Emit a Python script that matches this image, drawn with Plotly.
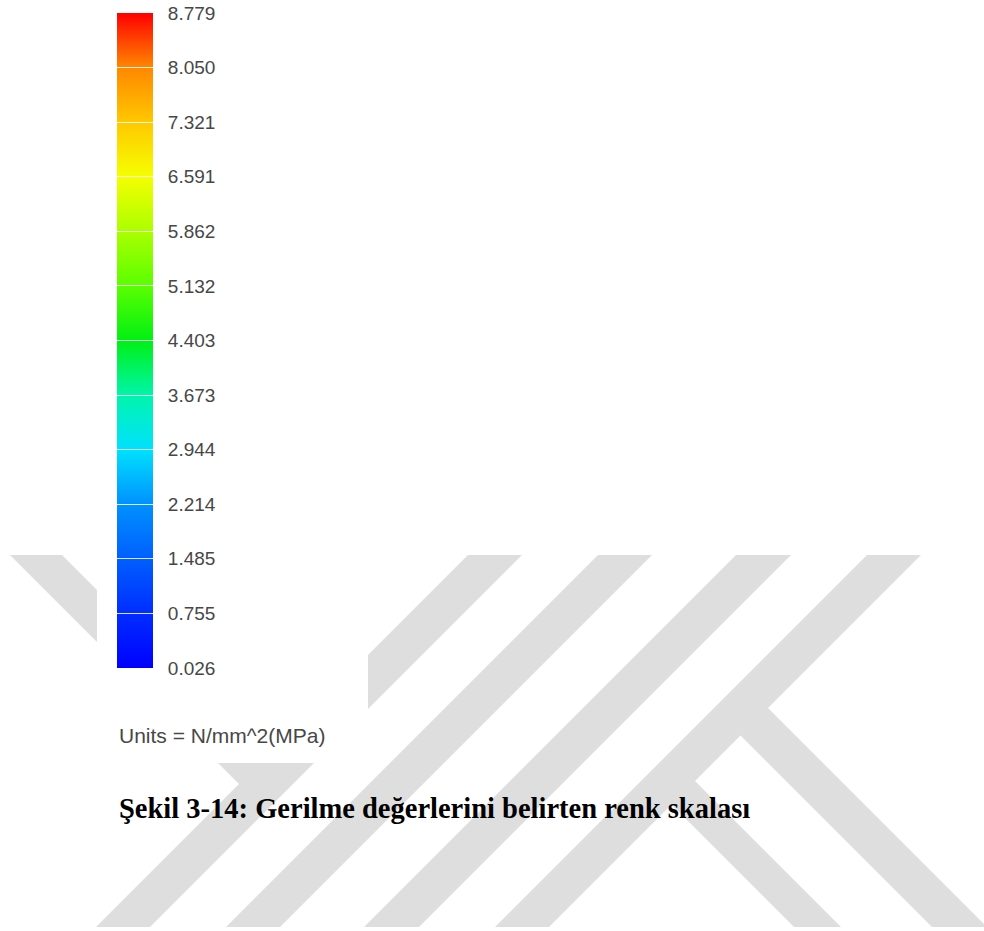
import plotly.graph_objects as go

# ---- data -------------------------------------------------------------
tick_values = [8.779, 8.050, 7.321, 6.591, 5.862, 5.132, 4.403,
               3.673, 2.944, 2.214, 1.485, 0.755, 0.026]
tick_labels = ["8.779", "8.050", "7.321", "6.591", "5.862", "5.132", "4.403",
               "3.673", "2.944", "2.214", "1.485", "0.755", "0.026"]
units_text = "Units = N/mm^2(MPa)"
caption_text = "Şekil 3-14: Gerilme değerlerini belirten renk skalası"

# colour stops (bottom -> top) of the stress colour scale
scale_colors = [
    "rgb(0,0,255)", "rgb(0,45,255)", "rgb(0,95,255)", "rgb(0,145,255)",
    "rgb(0,225,255)", "rgb(0,245,170)", "rgb(0,240,20)", "rgb(90,255,0)",
    "rgb(170,255,0)", "rgb(245,255,0)", "rgb(255,200,0)", "rgb(255,135,0)",
    "rgb(255,0,0)",
]
n = len(scale_colors)
colorscale = [[i / (n - 1), c] for i, c in enumerate(scale_colors)]

W, H = 984, 931
vmin, vmax = min(tick_values), max(tick_values)
pad = "\u00a0\u00a0"  # gap between bar and labels

fig = go.Figure()
fig.add_trace(go.Scatter(
    x=[None] * len(tick_values), y=[None] * len(tick_values),
    mode="markers", hoverinfo="skip", showlegend=False,
    marker=dict(
        color=tick_values, colorscale=colorscale, cmin=vmin, cmax=vmax,
        showscale=True,
        colorbar=dict(
            xref="container", yref="container",
            x=117 / W, xanchor="left",
            y=1 - 13 / H, yanchor="top",
            lenmode="pixels", len=655,
            thicknessmode="pixels", thickness=36,
            xpad=0, ypad=0, outlinewidth=0,
            tickmode="array", tickvals=tick_values,
            ticktext=[pad + t for t in tick_labels],
            ticks="inside", ticklen=36, tickwidth=1.2,
            tickcolor="rgba(255,255,255,0.85)",
            tickfont=dict(family="Liberation Sans, Arial", size=19, color="#474747"),
        ),
    ),
))

# ---- watermark (decoration, pixel coordinates) -------------------------
grey = "#dedede"
def poly(pts):
    return "M " + " L ".join(f"{x},{y}" for x, y in pts) + " Z"

stripes = [
    [(10, 555), (62, 555), (278.5, 771.5), (252.5, 797.5)],
    [(468, 555), (522, 555), (150, 927), (96, 927)],
    [(598, 555), (652, 555), (280, 927), (226, 927)],
    [(736, 555), (791, 555), (419, 927), (364, 927)],
    [(867, 555), (921, 555), (549, 927), (495, 927)],
    [(754.5, 694.5), (987, 927), (932, 927), (727, 722)],
    [(681.5, 767.5), (841, 927), (794, 927), (658, 791)],
]
shapes = [dict(type="path", path=poly(s), xref="x", yref="y",
               fillcolor=grey, line=dict(width=0), layer="below")
          for s in stripes]
# white background of the embedded legend image
shapes.append(dict(type="rect", xref="x", yref="y", x0=97, x1=368, y0=0, y1=763,
                   fillcolor="white", line=dict(width=0), layer="below"))

fig.update_layout(
    width=W, height=H,
    margin=dict(l=0, r=0, t=0, b=0, autoexpand=False),
    paper_bgcolor="white", plot_bgcolor="rgba(0,0,0,0)",
    xaxis=dict(range=[0, W], visible=False, fixedrange=True),
    yaxis=dict(range=[H, 0], visible=False, fixedrange=True),
    shapes=shapes,
    annotations=[
        dict(text=units_text, xref="x", yref="y", x=117, y=735,
             xanchor="left", yanchor="middle", showarrow=False,
             font=dict(family="Liberation Sans, Arial", size=21, color="#474747")),
        dict(text="<b>" + caption_text + "</b>", xref="x", yref="y", x=117, y=808,
             xanchor="left", yanchor="middle", showarrow=False,
             font=dict(family="Liberation Serif, Times New Roman", size=28.5, color="black")),
    ],
)

fig.write_html("out.html", config={"displayModeBar": False},
               post_script="document.body.style.margin='0';")
